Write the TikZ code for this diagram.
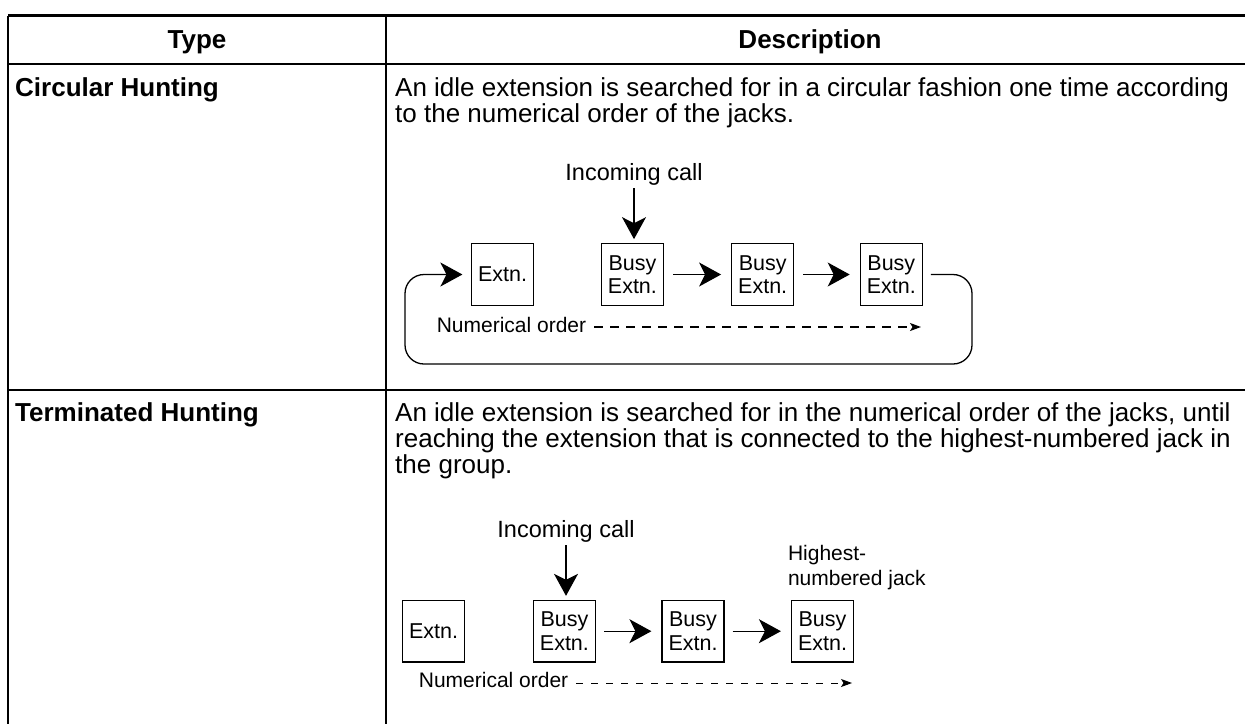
\documentclass[tikz,border=0pt]{standalone}
\usepackage{fontspec}
\setmainfont{Liberation Sans}
\usetikzlibrary{arrows.meta}
\tikzset{
  tline/.style={line width=2.2pt},
  body/.style={inner sep=0pt, anchor=base west, font=\fontsize{26}{26}\selectfont},
  bodyb/.style={inner sep=0pt, anchor=base west, font=\fontsize{26}{26}\selectfont\bfseries},
  head/.style={inner sep=0pt, anchor=base, font=\fontsize{26}{26}\selectfont\bfseries},
  lbl/.style={inner sep=0pt, anchor=base west, font=\fontsize{21}{23}\selectfont},
  inclbl/.style={inner sep=0pt, anchor=base, font=\fontsize{23.5}{25}\selectfont},
  extbox/.style={draw, line width=1.2pt, minimum width=62pt, minimum height=61.5pt, inner sep=0pt, align=center, font=\fontsize{21.5}{23.5}\selectfont},
  arr/.style={line width=1.3pt, -{Stealth[length=22pt, width=24pt, inset=6pt]}},
  dasharr/.style={line width=1.3pt, dash pattern=on 8.5pt off 7.5pt, -{Stealth[length=11pt, width=8pt, inset=2.5pt]}},
  dasharrb/.style={line width=0.9pt, dash pattern=on 7pt off 8pt, -{Stealth[length=11pt, width=8pt, inset=2.5pt]}},
}
\begin{document}
\begin{tikzpicture}[x=1pt, y=-1pt]
\useasboundingbox (0,0) rectangle (1245,724);
\fill[white] (0,0) rectangle (1245,724);
% table lines
\coordinate (tl) at (8,15.5);
\coordinate (tr) at (1245,15.5);
\coordinate (hl) at (8,64);
\coordinate (hr) at (1245,64);
\coordinate (rl) at (8,390);
\coordinate (rr) at (1245,390);
\coordinate (bl) at (8,724);
\coordinate (ct) at (386,15.5);
\coordinate (cb) at (386,724);
\draw[tline] (tl) -- (tr);
\draw[tline] (hl) -- (hr);
\draw[tline] (rl) -- (rr);
\draw[tline] (tl) -- (bl);
\draw[tline] (ct) -- (cb);
% header
\node[head] (htype) at (197,48) {Type};
\node[head] (hdesc) at (810,48) {Description};
% row 1
\node[bodyb] (t1) at (15,96) {Circular Hunting};
\node[body] (d1a) at (395,96) {An idle extension is searched for in a circular fashion one time according};
\node[body] (d1b) at (395,122) {to the numerical order of the jacks.};
% diagram 1
\node[inclbl] (inc1) at (634,180) {Incoming call};
\node[extbox] (e1) at (502.5,274.5) {Extn.};
\node[extbox] (b11) at (632.4,274.5) {Busy\\Extn.};
\node[extbox] (b12) at (762.7,274.5) {Busy\\Extn.};
\node[extbox] (b13) at (891.3,274.5) {Busy\\Extn.};
\draw[arr, shorten <=8pt, shorten >=4pt] (inc1.base) -- (inc1.base |- b11.north);
\draw[arr, shorten <=9pt, shorten >=10pt] (b11) -- (b12);
\draw[arr, shorten <=9pt, shorten >=10pt] (b12) -- (b13);
\coordinate (c1) at (972,274.5);
\coordinate (c2) at (972,364);
\coordinate (c3) at (405,364);
\coordinate (c4) at (405,274.5);
\draw[arr, rounded corners=19pt] ([xshift=8pt]b13.east) -- (c1) -- (c2) -- (c3) -- (c4) -- ([xshift=-8.5pt]e1.west);
\node[lbl] (no1) at (436.6,332) {Numerical order};
\coordinate (d1end) at (921,332);
\draw[dasharr] ([xshift=8pt,yshift=5pt]no1.base east) -- ([yshift=5pt]d1end);
% row 2
\node[bodyb] (t2) at (15,421) {Terminated Hunting};
\node[body] (d2a) at (395,421) {An idle extension is searched for in the numerical order of the jacks, until};
\node[body] (d2b) at (395,447) {reaching the extension that is connected to the highest-numbered jack in};
\node[body] (d2c) at (395,473) {the group.};
% diagram 2
\node[inclbl] (inc2) at (566,537) {Incoming call};
\node[extbox] (e2) at (433.5,631.2) {Extn.};
\node[extbox] (b21) at (564.4,631.2) {Busy\\Extn.};
\node[extbox] (b22) at (693,631.2) {Busy\\Extn.};
\node[extbox] (b23) at (822.5,631.2) {Busy\\Extn.};
\draw[arr, shorten <=8pt, shorten >=4pt] (inc2.base) -- (inc2.base |- b21.north);
\draw[arr, shorten <=8pt, shorten >=10pt] (b21) -- (b22);
\draw[arr, shorten <=8pt, shorten >=10pt] (b22) -- (b23);
\node[lbl] (hj1) at (787.8,560) {Highest-};
\node[lbl] (hj2) at (787.8,585) {numbered jack};
\node[lbl] (no2) at (418.7,687) {Numerical order};
\coordinate (d2end) at (852,687);
\draw[dasharrb] ([xshift=8pt,yshift=4pt]no2.base east) -- ([yshift=4pt]d2end);
\end{tikzpicture}
\end{document}
